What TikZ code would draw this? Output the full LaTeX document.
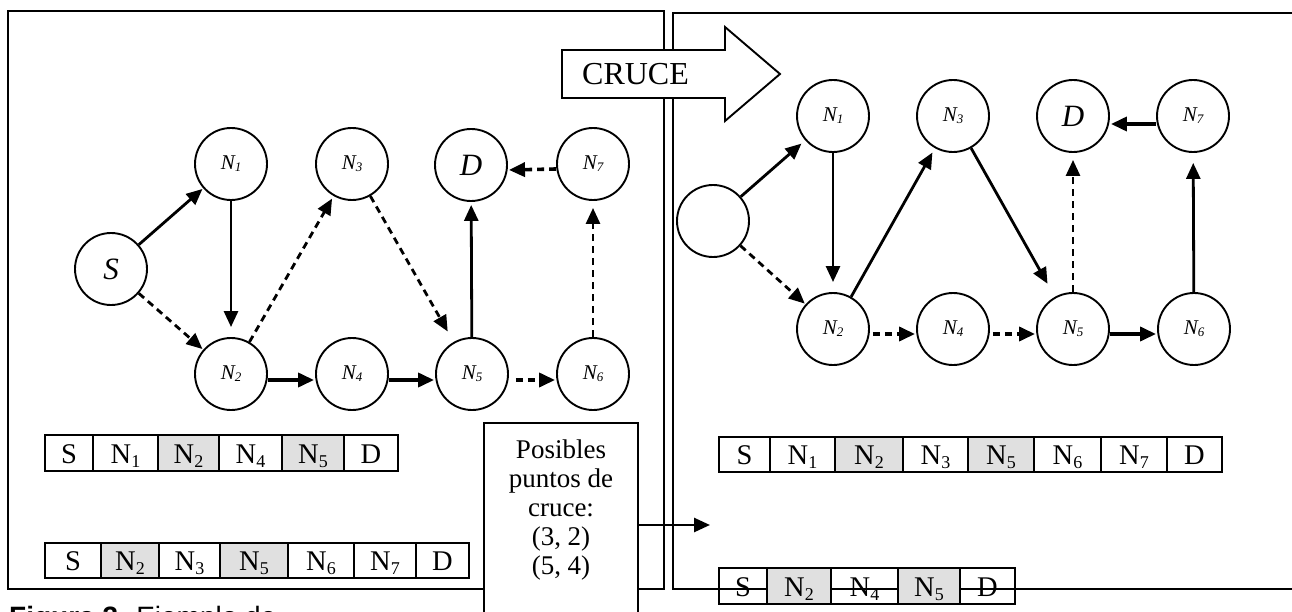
\documentclass[tikz,border=0pt]{standalone}
\usepackage{fontspec}
\setmainfont{Liberation Serif}
\newfontfamily\capfont{Liberation Sans}
\usetikzlibrary{arrows.meta}
\definecolor{cellgrey}{RGB}{224,224,224}
\newcommand\nlab[1]{{\fontsize{21}{21}\selectfont\itshape N\raisebox{-2pt}{\fontsize{13}{13}\selectfont #1}}}
\newcommand\tsub[1]{N\raisebox{-4pt}{\fontsize{18}{18}\selectfont #1}}
\newcommand\cell[7]{\node[cellbox,#7,minimum width={#3-#2},minimum height={#5-#4}] (#1) at ({(#2+#3)/2},{(#4+#5)/2}) {#6};}
\begin{document}
\begin{tikzpicture}[x=1pt,y=-1pt,
  panel/.style={draw, line width=2.4pt},
  gnode/.style={circle, draw, line width=1.9pt, minimum size=72pt, inner sep=0pt},
  bigl/.style={font=\fontsize{31}{31}\selectfont\itshape},
  solidarr/.style={line width=2.8pt, -{Triangle[length=16pt,width=14pt]}, shorten >=1pt},
  dasharr/.style={solidarr, dash pattern=on 7pt off 5pt},
  heavy/.style={line width=3.6pt},
  cellbox/.style={draw, line width=2.5pt, inner sep=0pt, text height=20pt, text depth=0pt, font=\fontsize{28.5}{30}\selectfont},
  greycell/.style={fill=cellgrey},
  bigarrow/.style={draw, line width=1.9pt, fill=white}
]
\useasboundingbox (0,0) rectangle (1292,612);
\clip (0,0) rectangle (1292,612);
% panels
\draw[panel] (8,11) rectangle (664,589);
\draw[panel] (673,13) rectangle (1310,589);
% CRUCE arrow
\draw[bigarrow] (562,50) -- (725,50) -- (725,27) -- (780,74) -- (725,121) -- (725,98) -- (562,98) -- cycle;
\node[anchor=base, inner sep=0pt, font=\fontsize{32}{32}\selectfont] (cruce) at (635.5,85) {CRUCE};

% left graph
\node[gnode, bigl] (lS) at (111,269) {S};
\node[gnode] (lN1) at (231,164) {\nlab{1}};
\node[gnode] (lN3) at (352,164) {\nlab{3}};
\node[gnode, bigl] (lD) at (471,165) {D};
\node[gnode] (lN7) at (593,164) {\nlab{7}};
\node[gnode] (lN2) at (231,374) {\nlab{2}};
\node[gnode] (lN4) at (352,374) {\nlab{4}};
\node[gnode] (lN5) at (472,374) {\nlab{5}};
\node[gnode] (lN6) at (593,374) {\nlab{6}};
\draw[solidarr] (lS) -- (lN1);
\draw[dasharr] (lS) -- (lN2);
\draw[solidarr, shorten >=10pt] (lN1) -- (lN2);
\draw[dasharr, shorten >=3pt] (lN2) -- (lN3);
\draw[dasharr, shorten >=12pt] (lN3) -- (lN5);
\draw[solidarr, heavy] ([yshift=-6pt]lN2.east) -- ([yshift=-6pt]lN4.west);
\draw[solidarr, heavy] ([yshift=-6pt]lN4.east) -- ([yshift=-6pt]lN5.west);
\draw[dasharr, heavy, shorten <=7pt] ([yshift=-6pt]lN5.east) -- ([yshift=-6pt]lN6.west);
\draw[solidarr, shorten >=3pt] (lN5) -- (lD);
\draw[dasharr, shorten >=7pt] (lN6) -- (lN7);
\draw[dasharr, heavy] ([yshift=-5pt]lN7.west) -- ([yshift=-5pt]lD.east);

% right graph
\node[gnode] (rS) at (713,221) {};
\node[gnode] (rN1) at (833,116) {\nlab{1}};
\node[gnode] (rN3) at (953,116) {\nlab{3}};
\node[gnode, bigl] (rD) at (1073,116) {D};
\node[gnode] (rN7) at (1193,116) {\nlab{7}};
\node[gnode] (rN2) at (833,329) {\nlab{2}};
\node[gnode] (rN4) at (953,329) {\nlab{4}};
\node[gnode] (rN5) at (1073,329) {\nlab{5}};
\node[gnode] (rN6) at (1194,329) {\nlab{6}};
\draw[solidarr, shorten >=5pt] (rS) -- (rN1);
\draw[dasharr] (rS) -- (rN2);
\draw[solidarr, shorten >=10pt] (rN1) -- (rN2);
\draw[solidarr, shorten >=5pt] (rN2) -- (rN3);
\draw[solidarr, shorten >=15pt] (rN3) -- (rN5);
\draw[dasharr, heavy, shorten <=3pt] ([yshift=-5pt]rN2.east) -- ([yshift=-5pt]rN4.west);
\draw[dasharr, heavy, shorten <=3pt] ([yshift=-5pt]rN4.east) -- ([yshift=-5pt]rN5.west);
\draw[solidarr, heavy] ([yshift=-5pt]rN5.east) -- ([yshift=-5pt]rN6.west);
\draw[dasharr, shorten >=7pt] (rN5) -- (rD);
\draw[solidarr, shorten >=10pt] (rN6) -- (rN7);
\draw[solidarr, heavy] ([yshift=-8pt]rN7.west) -- ([yshift=-8pt]rD.east);

% left tables
\cell{a1}{45}{93}{435}{471}{S}{}
\cell{a2}{93}{158}{435}{471}{\tsub{1}}{}
\cell{a3}{158}{219}{435}{471}{\tsub{2}}{greycell}
\cell{a4}{219}{282}{435}{471}{\tsub{4}}{}
\cell{a5}{282}{344}{435}{471}{\tsub{5}}{greycell}
\cell{a6}{344}{398}{435}{471}{D}{}

\cell{b1}{45}{101}{543}{578}{S}{}
\cell{b2}{101}{159}{543}{578}{\tsub{2}}{greycell}
\cell{b3}{159}{220}{543}{578}{\tsub{3}}{}
\cell{b4}{220}{288}{543}{578}{\tsub{5}}{greycell}
\cell{b5}{288}{354}{543}{578}{\tsub{6}}{}
\cell{b6}{354}{416}{543}{578}{\tsub{7}}{}
\cell{b7}{416}{469}{543}{578}{D}{}

% right tables
\cell{c1}{719}{770}{437}{472}{S}{}
\cell{c2}{770}{835}{437}{472}{\tsub{1}}{}
\cell{c3}{835}{903}{437}{472}{\tsub{2}}{greycell}
\cell{c4}{903}{968}{437}{472}{\tsub{3}}{}
\cell{c5}{968}{1034}{437}{472}{\tsub{5}}{greycell}
\cell{c6}{1034}{1101}{437}{472}{\tsub{6}}{}
\cell{c7}{1101}{1167}{437}{472}{\tsub{7}}{}
\cell{c8}{1167}{1222}{437}{472}{D}{}

\cell{d1}{719}{767}{568}{604}{S}{}
\cell{d2}{767}{831}{568}{604}{\tsub{2}}{greycell}
\cell{d3}{831}{898}{568}{604}{\tsub{4}}{}
\cell{d4}{898}{960}{568}{604}{\tsub{5}}{greycell}
\cell{d5}{960}{1015}{568}{604}{D}{}

% posibles box
\node[draw, line width=2.4pt, fill=white, minimum width=154pt, minimum height=237pt, inner sep=0pt] (posibles) at (561,541.5) {};
\node[anchor=north, align=center, inner sep=0pt, font=\fontsize{27}{29}\selectfont] (postext) at (561,440)
  {Posibles\\puntos de\\cruce:\\(3, 2)\\(5, 4)};
\coordinate (crossend) at (710,525);
\draw[line width=2.6pt, -{Triangle[length=16pt,width=14pt]}] ([yshift=16.5pt]posibles.east) -- (crossend);

% caption
\node[anchor=base west, inner sep=0pt, font=\capfont\fontsize{28}{28}\selectfont] (caption) at (9,626) {\textbf{Figura 3.} Ejemplo de};
\end{tikzpicture}
\end{document}
